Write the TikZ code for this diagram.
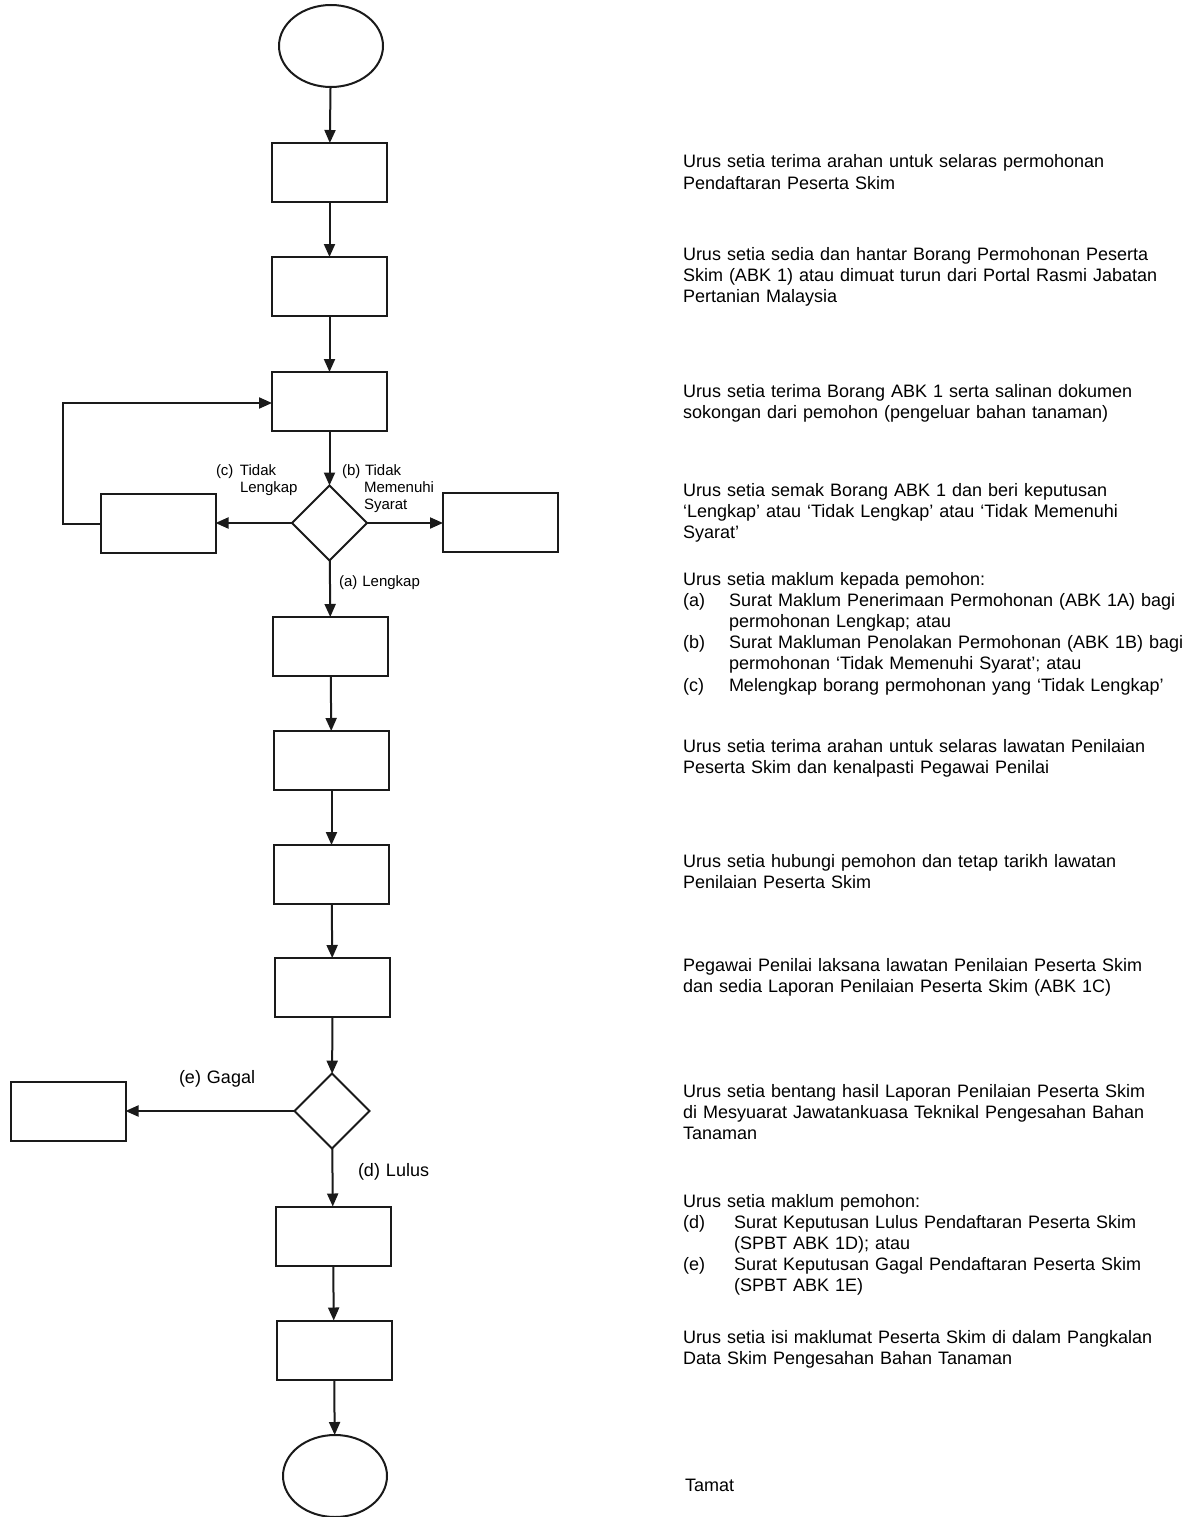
\documentclass[tikz,border=0pt]{standalone}
\usepackage{fontspec}
\setmainfont{Liberation Sans}
\usetikzlibrary{shapes.geometric,arrows.meta}
\definecolor{ink}{HTML}{1A1A1A}
\begin{document}
\begin{tikzpicture}[x=1pt,y=-1pt,
  ln/.style={line width=2pt, draw=ink},
  arr/.style={ln, -{Triangle[length=13pt,width=11pt]}},
  box/.style={rectangle, draw=ink, line width=2pt, minimum width=115pt, minimum height=59pt, inner sep=0pt, outer sep=0pt},
  term/.style={ellipse, draw=ink, line width=2pt, minimum width=104pt, minimum height=82pt, inner sep=0pt, outer sep=0pt},
  dec/.style={diamond, draw=ink, line width=2pt, minimum width=75pt, minimum height=75pt, inner sep=0pt, outer sep=0pt},
  txt/.style={font=\fontsize{18}{21.2}\selectfont, text width=530pt, align=left, inner sep=0pt, outer sep=0pt, anchor=base west, text=black},
  lbl/.style={font=\fontsize{15}{17}\selectfont, text width=110pt, align=left, inner sep=0pt, outer sep=0pt, anchor=base west, text=black},
  lblb/.style={lbl, font=\fontsize{18}{21}\selectfont}]
\path[use as bounding box, fill=white] (0,0) rectangle (1200,1517);

% flow nodes
\node[term] (start) at (331,46) {};
\node[box] (b1) at (329.5,172.5) {};
\node[box] (b2) at (329.5,286.5) {};
\node[box] (b3) at (329.5,401.5) {};
\node[dec] (d1) at (329.5,523) {};
\node[box] (bc) at (158,523.5) {};
\node[box] (bb) at (500.5,522.5) {};
\node[box] (b4) at (330.5,646.5) {};
\node[box] (b5) at (331.5,760.5) {};
\node[box] (b6) at (331.5,874.5) {};
\node[box] (b7) at (332.5,987.5) {};
\node[dec] (d2) at (332,1111) {};
\node[box] (be) at (68,1111) {};
\node[box] (b8) at (333,1236) {};
\node[box] (b9) at (334,1350) {};
\node[term] (stop) at (335,1476) {};

% connectors
\draw[arr] (start) -- (b1);
\draw[arr] (b1) -- (b2);
\draw[arr] (b2) -- (b3);
\draw[arr] (b3) -- (d1);
\draw[arr] (d1.west) -- (bc.east |- d1.west);
\draw[arr] (d1.east) -- (bb.west |- d1.east);
\coordinate (loop) at (63,403);
\draw[arr] (bc.west) -| (loop) -- (b3.west |- loop);
\draw[arr] (d1) -- (b4);
\draw[arr] (b4) -- (b5);
\draw[arr] (b5) -- (b6);
\draw[arr] (b6) -- (b7);
\draw[arr] (b7) -- (d2);
\draw[arr] (d2.west) -- (be.east |- d2.west);
\draw[arr] (d2) -- (b8);
\draw[arr] (b8) -- (b9);
\draw[arr] (b9) -- (stop);

% connector labels
\node[lbl] (lc) at (216,475) {\makebox[24pt][l]{(c)}Tidak\\\hspace*{24pt}Lengkap};
\node[lbl] (lb) at (342,475) {\makebox[23pt][l]{(b)}Tidak\\\hspace*{22pt}Memenuhi\\\hspace*{22pt}Syarat};
\node[lbl] (la) at (339,586) {(a) Lengkap};
\node[lblb] (le) at (179,1083) {(e) Gagal};
\node[lblb] (ld) at (358,1176) {(d) Lulus};

% descriptions
\node[txt] (t1) at (683,168) {Urus setia terima arahan untuk selaras permohonan\\Pendaftaran Peserta Skim};
\node[txt] (t2) at (683,260) {Urus setia sedia dan hantar Borang Permohonan Peserta\\Skim (ABK 1) atau dimuat turun dari Portal Rasmi Jabatan\\Pertanian Malaysia};
\node[txt] (t3) at (683,397) {Urus setia terima Borang ABK 1 serta salinan dokumen\\sokongan dari pemohon (pengeluar bahan tanaman)};
\node[txt] (t4) at (683,496) {Urus setia semak Borang ABK 1 dan beri keputusan\\‘Lengkap’ atau ‘Tidak Lengkap’ atau ‘Tidak Memenuhi\\Syarat’};
\node[txt] (t5) at (683,585) {Urus setia maklum kepada pemohon:\\
\makebox[46pt][l]{(a)}Surat Maklum Penerimaan Permohonan (ABK 1A) bagi\\
\hspace*{46pt}permohonan Lengkap; atau\\
\makebox[46pt][l]{(b)}Surat Makluman Penolakan Permohonan (ABK 1B) bagi\\
\hspace*{46pt}permohonan ‘Tidak Memenuhi Syarat’; atau\\
\makebox[46pt][l]{(c)}Melengkap borang permohonan yang ‘Tidak Lengkap’};
\node[txt] (t6) at (683,752) {Urus setia terima arahan untuk selaras lawatan Penilaian\\Peserta Skim dan kenalpasti Pegawai Penilai};
\node[txt] (t7) at (683,867) {Urus setia hubungi pemohon dan tetap tarikh lawatan\\Penilaian Peserta Skim};
\node[txt] (t8) at (683,971) {Pegawai Penilai laksana lawatan Penilaian Peserta Skim\\dan sedia Laporan Penilaian Peserta Skim (ABK 1C)};
\node[txt] (t9) at (683,1097) {Urus setia bentang hasil Laporan Penilaian Peserta Skim\\di Mesyuarat Jawatankuasa Teknikal Pengesahan Bahan\\Tanaman};
\node[txt] (t10) at (683,1207) {Urus setia maklum pemohon:\\
\makebox[51pt][l]{(d)}Surat Keputusan Lulus Pendaftaran Peserta Skim\\
\hspace*{51pt}(SPBT ABK 1D); atau\\
\makebox[51pt][l]{(e)}Surat Keputusan Gagal Pendaftaran Peserta Skim\\
\hspace*{51pt}(SPBT ABK 1E)};
\node[txt] (t11) at (683,1343) {Urus setia isi maklumat Peserta Skim di dalam Pangkalan\\Data Skim Pengesahan Bahan Tanaman};
\node[txt] (t12) at (685,1491) {Tamat};
\end{tikzpicture}
\end{document}
